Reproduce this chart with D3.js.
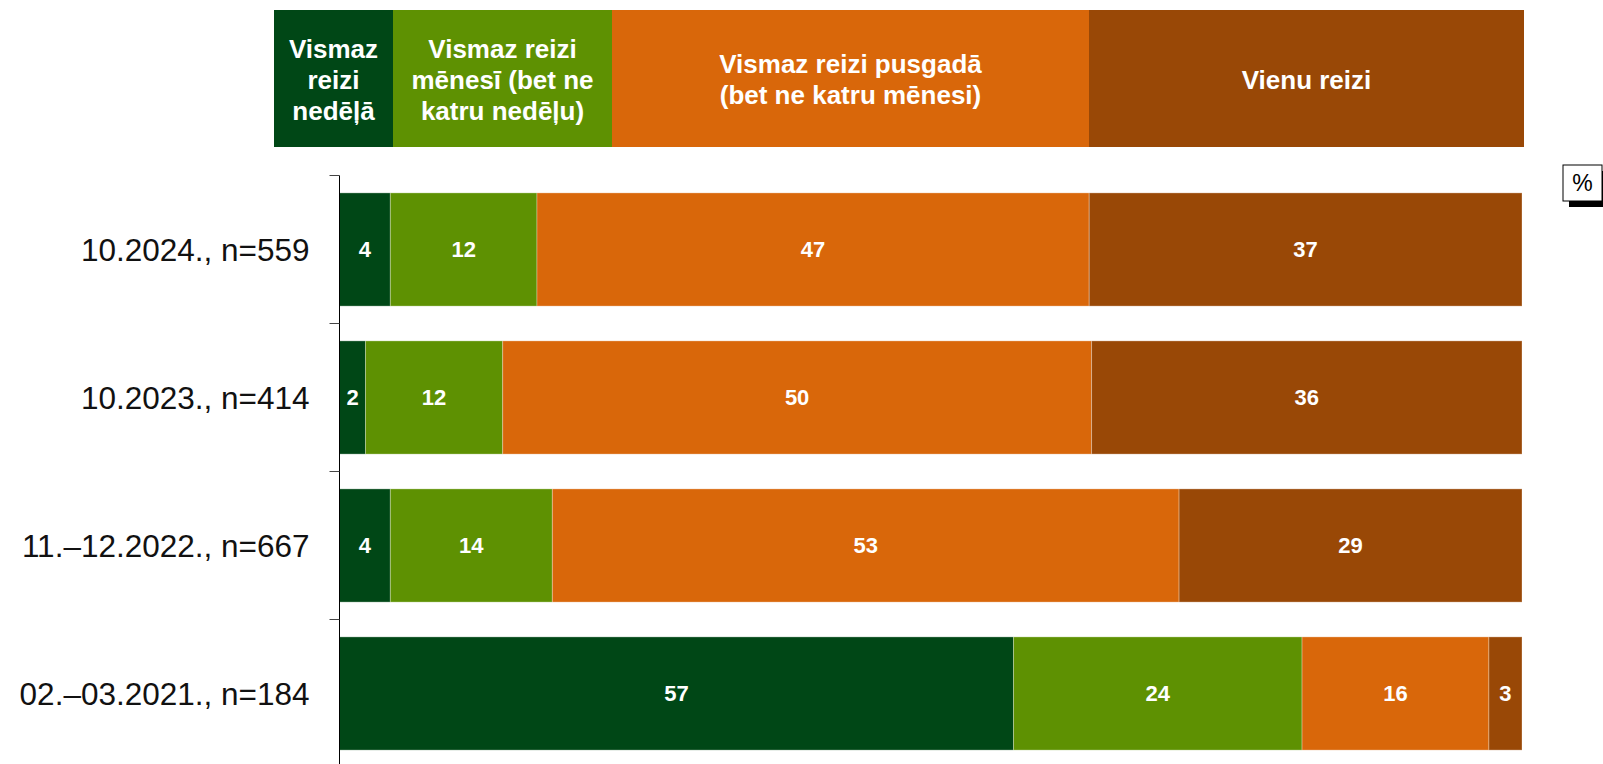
<!DOCTYPE html>
<html lang="lv">
<head>
    <meta charset="UTF-8">
    <title>Biežums</title>
    <script src="https://d3js.org/d3.v7.min.js"></script>
    <style>
        html, body {
            margin: 0;
            padding: 0;
            background: #fff;
        }
        body {
            font-family: "Liberation Sans", Arial, sans-serif;
        }
        #chart svg {
            display: block;
        }
    </style>
</head>
<body>
    <div id="chart"></div>

    <script>
        // dati
        const categories = ["10.2024., n=559", "10.2023., n=414", "11.–12.2022., n=667", "02.–03.2021., n=184"];
        const seriesNames = [
            ["Vismaz", "reizi", "nedēļā"],
            ["Vismaz reizi", "mēnesī (bet ne", "katru nedēļu)"],
            ["Vismaz reizi pusgadā", "(bet ne katru mēnesi)"],
            ["Vienu reizi"]
        ];
        const weekly    = [4.3, 2.2, 4.3, 57.0];
        const monthly   = [12.4, 11.6, 13.7, 24.4];
        const halfYear  = [46.7, 49.8, 53.0, 15.8];
        const once      = [36.6, 36.4, 29.0, 2.8];
        const colors = ["#004716", "#5e9102", "#d9670a", "#994806"];

        const width = 1603, height = 764;
        const axisX = 339.5, plotRight = 1522;
        const legendX = 274, legendTop = 10, legendH = 137;
        const legendWidths = [119, 219, 477, 435];

        const svg = d3.select("#chart")
            .append("svg")
            .attr("width", width)
            .attr("height", height);

        const table = categories.map((c, i) => ({
            cat: c,
            s0: weekly[i], s1: monthly[i], s2: halfYear[i], s3: once[i]
        }));
        const keys = ["s0", "s1", "s2", "s3"];
        const stacked = d3.stack().keys(keys)(table);

        const x = d3.scaleLinear().domain([0, 100]).range([axisX, plotRight]);
        const y = d3.scaleBand()
            .domain(categories)
            .range([175.5, 175.5 + 4 * 148])
            .paddingInner(0.235)
            .paddingOuter(0.1175);

        // joslas
        const layer = svg.append("g")
            .selectAll("g")
            .data(stacked)
            .enter()
            .append("g")
            .attr("fill", (d, i) => colors[i]);

        layer.selectAll("rect")
            .data(d => d)
            .enter()
            .append("rect")
            .attr("x", d => x(d[0]))
            .attr("y", d => y(d.data.cat))
            .attr("width", d => x(d[1]) - x(d[0]))
            .attr("height", y.bandwidth())
            .attr("stroke", "rgba(255,255,255,0.3)")
            .attr("stroke-width", 1);

        // vērtības
        layer.selectAll("text")
            .data(d => d)
            .enter()
            .append("text")
            .attr("x", d => (x(d[0]) + x(d[1])) / 2)
            .attr("y", d => y(d.data.cat) + y.bandwidth() / 2)
            .attr("dy", "0.36em")
            .attr("text-anchor", "middle")
            .attr("fill", "#fff")
            .attr("font-weight", "bold")
            .attr("font-size", "22px")
            .text(d => Math.round(d[1] - d[0]));

        // ass
        const tickOffset = y.step() * y.paddingInner() / 2;
        const axis = svg.append("g");
        axis.append("line")
            .attr("x1", axisX).attr("x2", axisX)
            .attr("y1", y(categories[0]) - tickOffset)
            .attr("y2", height)
            .attr("stroke", "#000")
            .attr("stroke-width", 1);

        axis.selectAll(".tick")
            .data(categories)
            .enter()
            .append("line")
            .attr("x1", axisX - 10).attr("x2", axisX)
            .attr("y1", d => y(d) - tickOffset)
            .attr("y2", d => y(d) - tickOffset)
            .attr("stroke", "#444")
            .attr("stroke-width", 1);

        axis.selectAll(".cat")
            .data(categories)
            .enter()
            .append("text")
            .attr("x", axisX - 30)
            .attr("y", d => y(d) + y.bandwidth() / 2)
            .attr("dy", "0.36em")
            .attr("text-anchor", "end")
            .attr("font-size", "31.5px")
            .attr("fill", "#111")
            .text(d => d);

        // leģenda
        let lx = legendX;
        const legend = svg.append("g");
        seriesNames.forEach((lines, i) => {
            const w = legendWidths[i];
            legend.append("rect")
                .attr("x", lx).attr("y", legendTop)
                .attr("width", w).attr("height", legendH)
                .attr("fill", colors[i]);
            const cy = legendTop + legendH / 2 + 1;
            const lh = 31;
            const t = legend.append("text")
                .attr("text-anchor", "middle")
                .attr("fill", "#fff")
                .attr("font-weight", "bold")
                .attr("font-size", "26px");
            lines.forEach((ln, j) => {
                t.append("tspan")
                    .attr("x", lx + w / 2)
                    .attr("y", cy + (j - (lines.length - 1) / 2) * lh)
                    .attr("dy", "0.36em")
                    .text(ln);
            });
            lx += w;
        });

        // % lodziņš
        const pct = svg.append("g");
        pct.append("rect")
            .attr("x", 1569).attr("y", 171)
            .attr("width", 39).attr("height", 36)
            .attr("fill", "#000");
        pct.append("rect")
            .attr("x", 1563).attr("y", 165)
            .attr("width", 39).attr("height", 36)
            .attr("fill", "#fff")
            .attr("stroke", "#000")
            .attr("stroke-width", 1);
        pct.append("text")
            .attr("x", 1582.5).attr("y", 183)
            .attr("dy", "0.36em")
            .attr("text-anchor", "middle")
            .attr("font-size", "23px")
            .text("%");
    </script>
</body>
</html>
